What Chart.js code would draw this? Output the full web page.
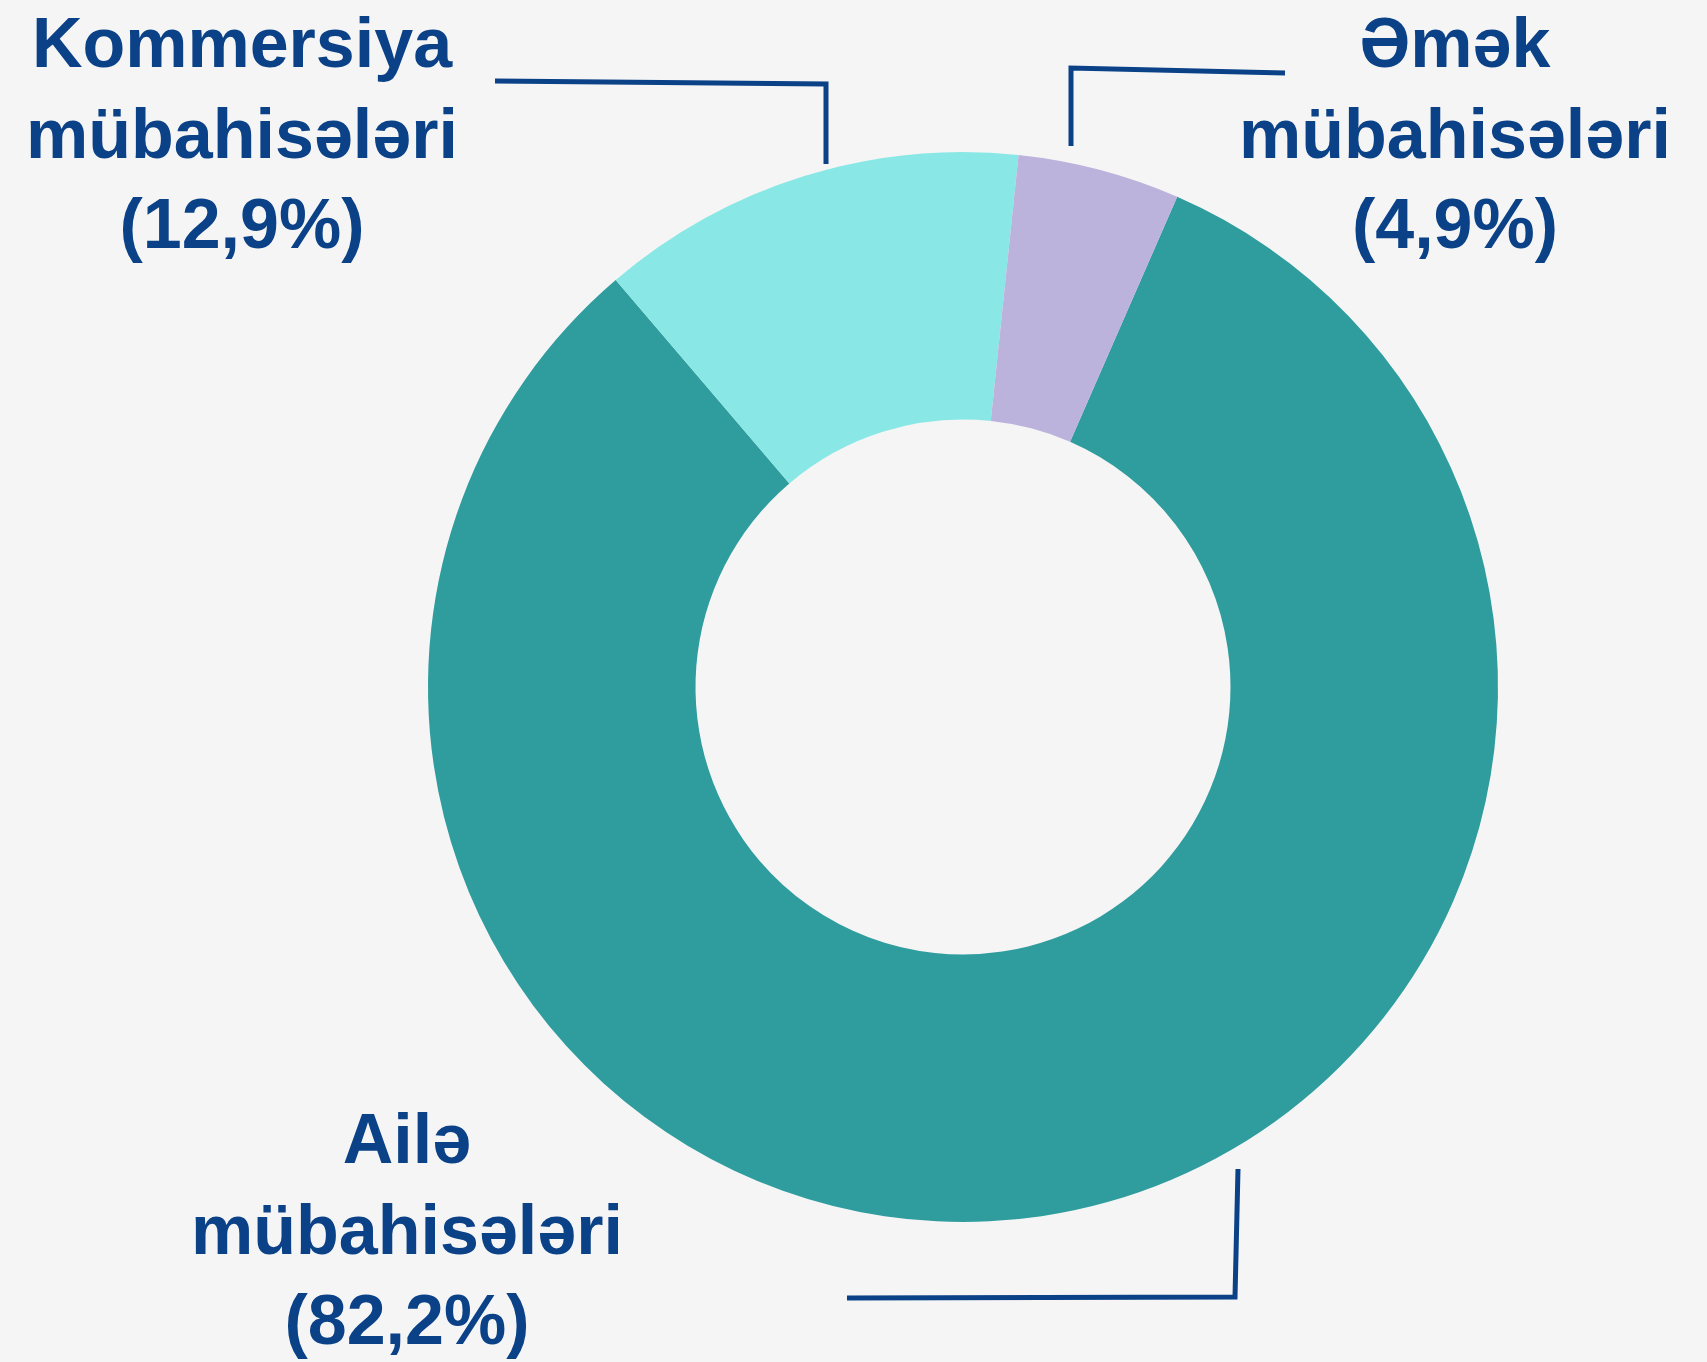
<!DOCTYPE html>
<html>
<head>
<meta charset="utf-8">
<script src="https://cdn.jsdelivr.net/npm/chart.js@4/dist/chart.umd.min.js"></script>
<style>
  html, body { margin: 0; padding: 0; background: #f5f5f5; }
  canvas { display: block; }
</style>
</head>
<body>
<canvas id="chart" width="1707" height="1362"></canvas>
<script>
// Mübahisə növləri üzrə paylanma (%)
const categories = ["Ailə mübahisələri", "Kommersiya mübahisələri", "Əmək mübahisələri"];
const shares = [82.2, 12.9, 4.9];
const labelLines = [
  ["Ailə", "mübahisələri"],
  ["Kommersiya", "mübahisələri"],
  ["Əmək", "mübahisələri"]
];
const colors = ["#2f9c9e", "#89e8e6", "#bbb3dc"];

const navy = "#0a4187";

// callout layout, pixels relative to the donut centre
const callouts = [
  { textX: -556, textY: 476, path: [[275, 482], [272, 610], [-116, 611]] },
  { textX: -721, textY: -620, path: [[-137, -523], [-137, -603], [-468, -606]] },
  { textX: 492, textY: -620, path: [[108, -541], [108, -619], [322, -614]] }
];

const fmt = v => "(" + v.toFixed(1).replace(".", ",") + "%)";

const calloutPlugin = {
  id: "callouts",
  afterDatasetsDraw(chart) {
    const ctx = chart.ctx;
    const arc = chart.getDatasetMeta(0).data[0];
    const cx = arc.x, cy = arc.y;
    ctx.save();
    ctx.strokeStyle = navy;
    ctx.lineWidth = 5;
    ctx.lineCap = "butt";
    ctx.lineJoin = "miter";
    callouts.forEach((c, i) => {
      ctx.beginPath();
      c.path.forEach(([dx, dy], k) => {
        if (k === 0) ctx.moveTo(cx + dx, cy + dy);
        else ctx.lineTo(cx + dx, cy + dy);
      });
      ctx.stroke();

      ctx.fillStyle = navy;
      ctx.font = "bold 70px 'Liberation Sans', Arial, sans-serif";
      ctx.textAlign = "center";
      ctx.textBaseline = "alphabetic";
      const lines = [...labelLines[i], fmt(shares[i])];
      lines.forEach((t, k) => {
        ctx.fillText(t, cx + c.textX, cy + c.textY + k * 90.5);
      });
    });
    ctx.restore();
  }
};

new Chart(document.getElementById("chart"), {
  type: "doughnut",
  data: {
    labels: categories,
    datasets: [{
      data: shares,
      backgroundColor: colors,
      borderWidth: 0,
      hoverOffset: 0
    }]
  },
  options: {
    responsive: false,
    animation: false,
    cutout: "50%",
    rotation: 23.6,
    layout: { padding: { left: 428, right: 209, top: 152, bottom: 140 } },
    plugins: {
      legend: { display: false },
      tooltip: { enabled: false }
    }
  },
  plugins: [calloutPlugin]
});
</script>
</body>
</html>
